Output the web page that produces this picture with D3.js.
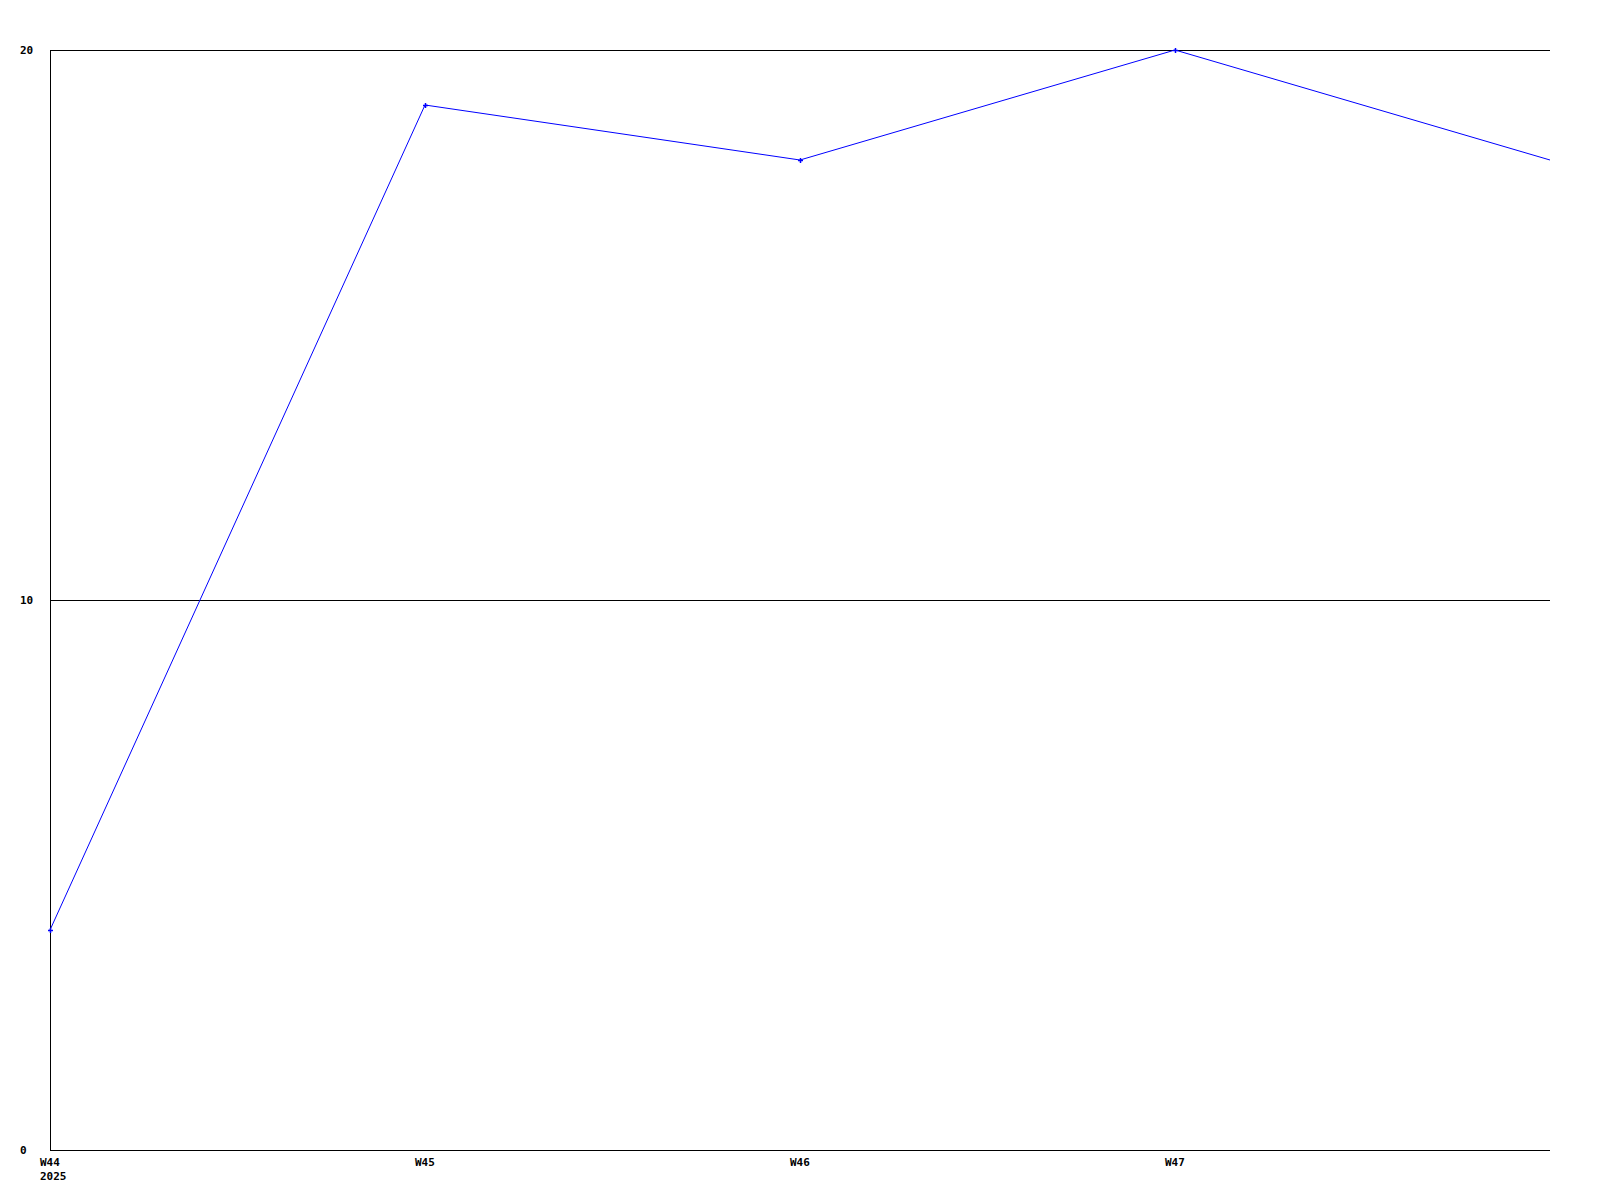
<!DOCTYPE html>
<html>
<head>
<meta charset="utf-8">
<script src="https://cdn.jsdelivr.net/npm/d3@7"></script>
<style>
  body { margin: 0; background: #fff; }
  svg text { font-family: "DejaVu Sans Mono", monospace; font-size: 11px; font-weight: bold; }
</style>
</head>
<body>
<svg id="chart" width="1600" height="1200"></svg>
<script>
// weeks on the x axis, the last one sits on the right edge with no label
const weeks = ["W44", "W45", "W46", "W47", "W48"];
const weekLabels = ["W44", "W45", "W46", "W47"];
const values = [4, 19, 18, 20, 18];
const yTicks = [0, 10, 20];
const yearLabel = "2025";

const svg = d3.select("#chart");
const margin = { top: 50, right: 50, bottom: 50, left: 50 };
const width = 1600, height = 1200;
const innerW = width - margin.left - margin.right;
const innerH = height - margin.top - margin.bottom;

const x = d3.scalePoint()
  .domain(weeks)
  .range([0, innerW]);

const y = d3.scaleLinear()
  .domain([0, 20])
  .range([innerH, 0]);

const g = svg.append("g")
  .attr("transform", `translate(${margin.left},${margin.top})`);

// horizontal grid lines
g.selectAll(".grid")
  .data(yTicks.filter(d => d > 0))
  .enter().append("line")
    .attr("x1", 0)
    .attr("x2", innerW)
    .attr("y1", d => Math.round(y(d)) + 0.5)
    .attr("y2", d => Math.round(y(d)) + 0.5)
    .attr("stroke", "#000")
    .attr("stroke-width", 1);

// axes lines
g.append("line")
  .attr("x1", 0.5).attr("x2", 0.5)
  .attr("y1", 0).attr("y2", innerH)
  .attr("stroke", "#000");
g.append("line")
  .attr("x1", 0).attr("x2", innerW)
  .attr("y1", innerH + 0.5).attr("y2", innerH + 0.5)
  .attr("stroke", "#000");

// y labels
g.selectAll(".ylab")
  .data(yTicks)
  .enter().append("text")
    .attr("x", -30)
    .attr("y", d => y(d))
    .attr("dy", "0.35em")
    .text(d => d);

// x labels
g.selectAll(".xlab")
  .data(weekLabels)
  .enter().append("text")
    .attr("x", d => x(d) - 10)
    .attr("y", innerH + 16)
    .text(d => d);

g.append("text")
  .attr("x", x(weeks[0]) - 10)
  .attr("y", innerH + 30)
  .text(yearLabel);

// the series
const line = d3.line()
  .x((d, i) => x(weeks[i]))
  .y(d => y(d));

g.append("path")
  .datum(values)
  .attr("d", line)
  .attr("fill", "none")
  .attr("stroke", "#0000ff")
  .attr("stroke-width", 1);

// small cross markers on labelled weeks
g.selectAll(".pt")
  .data(values.slice(0, weekLabels.length))
  .enter().append("path")
    .attr("transform", (d, i) => `translate(${x(weeks[i])},${y(d)})`)
    .attr("d", "M-2,0.5H3M0.5,-2V3")
    .attr("fill", "none")
    .attr("stroke", "#0000ff")
    .attr("stroke-width", 1.5);
</script>
</body>
</html>
